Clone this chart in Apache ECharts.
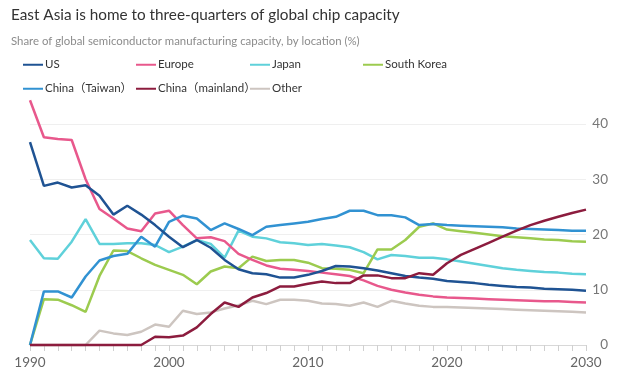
<!DOCTYPE html>
<html>
<head>
<meta charset="utf-8">
<script src="https://cdn.jsdelivr.net/npm/echarts@6/dist/echarts.min.js"></script>
<style>
html,body{margin:0;padding:0;background:#fff;}
#chart{width:619px;height:372px;}
</style>
</head>
<body>
<div id="chart"></div>
<script>
// Years 1990..2030
var years = [];
for (var y = 1990; y <= 2030; y++) years.push(y);

var usData = [36.7, 28.8, 29.4, 28.5, 28.9, 27.0, 23.6, 25.2, 23.6, 21.7,
  19.6, 17.7, 19.0, 17.6, 15.4, 13.7, 13.0, 12.8, 12.2, 12.2,
  12.7, 13.4, 14.3, 14.2, 13.9, 13.5, 13.0, 12.5, 12.2, 12.0,
  11.6, 11.4, 11.2, 10.9, 10.7, 10.5, 10.4, 10.2, 10.1, 10.0, 9.8];
var europeData = [44.3, 37.6, 37.3, 37.1, 30.0, 24.6, 22.9, 21.1, 20.6, 23.8,
  24.3, 21.7, 19.3, 19.5, 18.8, 16.5, 15.4, 14.4, 13.8, 13.6,
  13.4, 13.1, 12.8, 12.5, 11.7, 10.7, 10.0, 9.5, 9.1, 8.8,
  8.6, 8.5, 8.4, 8.3, 8.2, 8.1, 8.0, 7.9, 7.9, 7.8, 7.7];
var japanData = [19.0, 15.7, 15.6, 18.7, 22.8, 18.3, 18.3, 18.4, 18.4, 18.1,
  16.8, 17.8, 19.0, 18.3, 15.8, 20.7, 19.6, 19.3, 18.6, 18.4,
  18.1, 18.3, 18.0, 17.7, 16.8, 15.5, 16.3, 16.1, 15.8, 15.8,
  15.5, 15.1, 14.7, 14.3, 13.9, 13.6, 13.4, 13.2, 13.1, 12.9, 12.8];
var koreaData = [0, 8.3, 8.2, 7.2, 6.0, 12.5, 17.1, 17.0, 15.7, 14.5,
  13.6, 12.7, 11.0, 13.3, 14.2, 13.9, 16.0, 15.2, 15.4, 15.4,
  14.9, 13.9, 13.8, 13.6, 13.0, 17.3, 17.3, 19.0, 21.4, 22.0,
  20.9, 20.6, 20.3, 20.0, 19.7, 19.5, 19.3, 19.1, 19.0, 18.8, 18.7];
var taiwanData = [0, 9.7, 9.7, 8.6, 12.4, 15.3, 16.1, 16.5, 19.6, 17.8,
  22.3, 23.4, 22.9, 20.8, 22.0, 21.0, 19.9, 21.4, 21.7, 22.0,
  22.3, 22.8, 23.2, 24.3, 24.3, 23.5, 23.5, 23.1, 21.7, 21.9,
  21.7, 21.6, 21.5, 21.4, 21.3, 21.1, 21.0, 20.9, 20.8, 20.7, 20.7];
var mainlandData = [0, 0, 0, 0, 0, 0, 0, 0, 0, 1.5,
  1.4, 1.7, 3.2, 5.6, 7.7, 6.9, 8.6, 9.4, 10.6, 10.6,
  11.1, 11.5, 11.2, 11.2, 12.6, 12.6, 12.1, 12.1, 13.0, 12.7,
  14.8, 16.3, 17.4, 18.5, 19.6, 20.7, 21.7, 22.5, 23.2, 23.9, 24.5];
var otherData = [0, 0, 0, 0, 0, 2.6, 2.1, 1.8, 2.4, 3.7,
  3.3, 6.2, 5.6, 5.9, 6.6, 7.2, 8.0, 7.4, 8.2, 8.2,
  8.0, 7.5, 7.4, 7.1, 7.7, 6.9, 8.0, 7.5, 7.1, 6.9,
  6.9, 6.8, 6.7, 6.6, 6.5, 6.4, 6.3, 6.2, 6.1, 6.0, 5.9];

var seriesNames = ['US', 'Europe', 'Japan', 'South Korea', 'China（Taiwan）', 'China（mainland）', 'Other'];
var yTicks = [0, 10, 20, 30, 40];
var xLabelYears = [1990, 2000, 2010, 2020, 2030];

var colors = {
  'US': '#1f5393',
  'Europe': '#e8588c',
  'Japan': '#5fd1da',
  'South Korea': '#9ccb4f',
  'China（Taiwan）': '#3192d2',
  'China（mainland）': '#8c1c3e',
  'Other': '#cdc5c0'
};
var dataMap = {
  'US': usData, 'Europe': europeData, 'Japan': japanData, 'South Korea': koreaData,
  'China（Taiwan）': taiwanData, 'China（mainland）': mainlandData, 'Other': otherData
};
var drawOrder = ['Other', 'Japan', 'South Korea', 'Europe', 'China（Taiwan）', 'US', 'China（mainland）'];

var FONT = "Lato, 'Noto Sans CJK SC', sans-serif";

function pairs(arr) {
  return arr.map(function (v, i) { return [years[i], v]; });
}

var legendPos = [
  {left: 23, top: 59}, {left: 136, top: 59}, {left: 250, top: 59}, {left: 363, top: 59},
  {left: 23, top: 83}, {left: 136, top: 83}, {left: 250, top: 83}
];
var legends = seriesNames.map(function (n, i) {
  return {
    data: [n],
    left: legendPos[i].left,
    top: legendPos[i].top,
    padding: 0,
    icon: 'rect',
    itemWidth: 20,
    itemHeight: 2,
    selectedMode: false,
    textStyle: {fontFamily: FONT, fontSize: 11.5, color: '#333', padding: [0, 0, 0, -3]}
  };
});

var chart = echarts.init(document.getElementById('chart'), null, {renderer: 'canvas'});
chart.setOption({
  animation: false,
  backgroundColor: '#fff',
  title: [
    {text: 'East Asia is home to three-quarters of global chip capacity', left: 11, top: 7, padding: 0,
      textStyle: {fontFamily: FONT, fontSize: 15.3, fontWeight: 'normal', color: '#333'}},
    {text: 'Share of global semiconductor manufacturing capacity, by location (%)', left: 11, top: 36, padding: 0,
      textStyle: {fontFamily: FONT, fontSize: 11.4, fontWeight: 'normal', color: '#8c8c8c'}}
  ],
  legend: legends,
  grid: {left: 30, right: 33, top: 124, bottom: 27, containLabel: false},
  xAxis: {
    type: 'value', min: 1990, max: 2030, interval: 1,
    axisLine: {show: true, lineStyle: {color: '#d8d8d8', width: 1}},
    axisTick: {show: true, length: 6, lineStyle: {color: '#d0d0d0'}},
    splitLine: {show: false},
    axisLabel: {
      margin: 11, color: '#666', fontFamily: FONT, fontSize: 13.5,
      formatter: function (v) { return xLabelYears.indexOf(v) >= 0 ? String(v) : ''; }
    }
  },
  yAxis: {
    type: 'value', position: 'right', min: yTicks[0], max: yTicks[yTicks.length - 1], interval: 10,
    axisLine: {show: false}, axisTick: {show: false},
    splitLine: {show: true, lineStyle: {color: '#efefef', width: 1}},
    axisLabel: {margin: 22, align: 'right', color: '#777', fontFamily: FONT, fontSize: 13.5}
  },
  series: drawOrder.map(function (n) {
    return {
      name: n, type: 'line', data: pairs(dataMap[n]), symbol: 'none', clip: false,
      lineStyle: {color: colors[n], width: 2.5}, itemStyle: {color: colors[n]},
      z: 2
    };
  })
});
</script>
</body>
</html>
